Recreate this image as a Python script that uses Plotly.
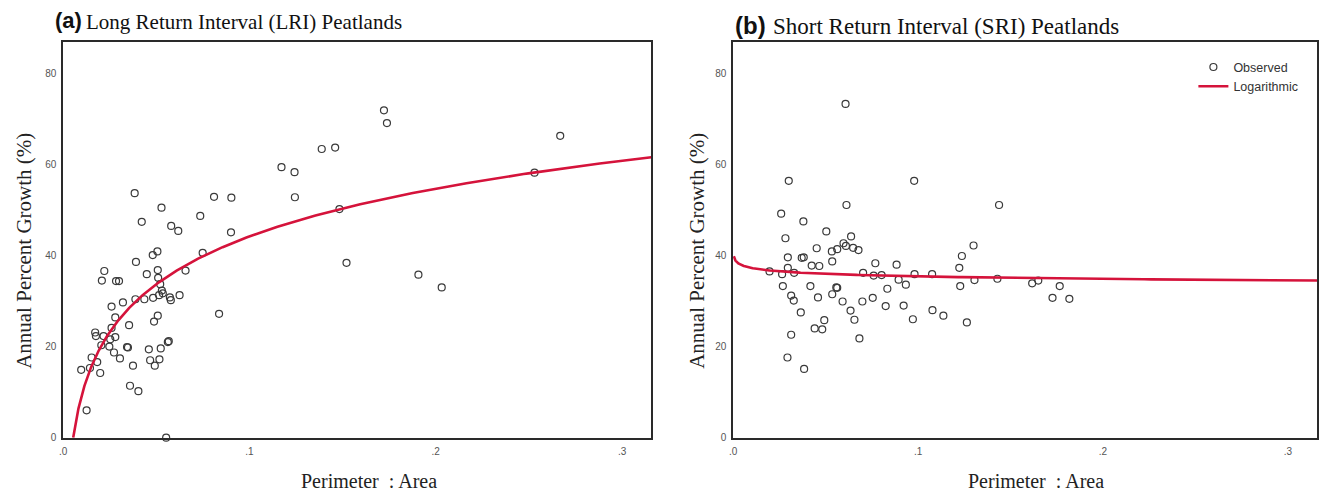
import numpy as np
import plotly.graph_objects as go

# ---------------- data ----------------
lri_x = [0.0097, 0.0126, 0.0144, 0.0153, 0.0172, 0.0176, 0.0183, 0.0199, 0.0205, 0.0208,
         0.0217, 0.0221, 0.0248, 0.0253, 0.0260, 0.0260, 0.0273, 0.0280, 0.0280, 0.0284,
         0.0300, 0.0305, 0.0321, 0.0343, 0.0348, 0.0354, 0.0359, 0.0375, 0.0384, 0.0388,
         0.0391, 0.0404, 0.0422, 0.0436, 0.0449, 0.0460, 0.0467, 0.0481, 0.0483, 0.0488,
         0.0492, 0.0506, 0.0508, 0.0508, 0.0510, 0.0515, 0.0517, 0.0521, 0.0524, 0.0528,
         0.0530, 0.0535, 0.0553, 0.0562, 0.0567, 0.0573, 0.0578, 0.0580, 0.0618, 0.0625,
         0.0657, 0.0736, 0.0749, 0.0810, 0.0837, 0.0901, 0.0903, 0.1172, 0.1242, 0.1244,
         0.1388, 0.1460, 0.1483, 0.1521, 0.1722, 0.1738, 0.1907, 0.2032, 0.2530, 0.2668]
lri_y = [14.9, 6.0, 15.3, 17.6, 23.1, 22.3, 16.6, 14.2, 20.3, 34.5,
         22.3, 36.6, 20.0, 21.6, 28.8, 24.1, 18.7, 26.4, 22.1, 34.4,
         34.4, 17.4, 29.7, 19.9, 19.8, 24.7, 11.4, 15.8, 53.7, 30.4,
         38.6, 10.2, 47.4, 30.4, 35.9, 19.4, 17.0, 40.1, 30.7, 25.5,
         15.8, 40.9, 36.8, 26.8, 35.1, 31.3, 17.2, 33.7, 19.6, 50.5,
         32.3, 31.7, 0.0, 21.0, 21.2, 30.8, 30.2, 46.5, 45.4, 31.3,
         36.7, 48.7, 40.6, 52.9, 27.2, 45.1, 52.7, 59.4, 58.3, 52.8,
         63.4, 63.7, 50.2, 38.4, 71.9, 69.1, 35.8, 33.0, 58.2, 66.3]

sri_x = [0.0197, 0.0260, 0.0265, 0.0269, 0.0283, 0.0294, 0.0296, 0.0296, 0.0301, 0.0314,
         0.0314, 0.0328, 0.0330, 0.0366, 0.0371, 0.0380, 0.0382, 0.0384, 0.0418, 0.0425,
         0.0441, 0.0452, 0.0459, 0.0466, 0.0482, 0.0493, 0.0504, 0.0534, 0.0536, 0.0536,
         0.0558, 0.0563, 0.0563, 0.0592, 0.0597, 0.0608, 0.0610, 0.0613, 0.0635, 0.0638,
         0.0649, 0.0656, 0.0678, 0.0683, 0.0699, 0.0703, 0.0755, 0.0760, 0.0769, 0.0803,
         0.0825, 0.0834, 0.0884, 0.0895, 0.0922, 0.0934, 0.0972, 0.0979, 0.0981, 0.1076,
         0.1078, 0.1137, 0.1223, 0.1228, 0.1237, 0.1264, 0.1300, 0.1305, 0.1429, 0.1438,
         0.1617, 0.1650, 0.1727, 0.1766, 0.1818]
sri_y = [36.5, 49.2, 35.9, 33.3, 43.8, 17.6, 39.6, 37.3, 56.4, 22.6,
         31.2, 30.1, 36.2, 27.5, 39.5, 47.5, 39.6, 15.1, 33.3, 37.8,
         24.0, 41.6, 30.8, 37.7, 23.8, 25.8, 45.3, 40.9, 38.7, 31.5,
         33.0, 32.9, 41.4, 29.9, 42.7, 73.3, 42.1, 51.1, 27.9, 44.2,
         41.7, 25.9, 41.2, 21.8, 29.9, 36.2, 30.7, 35.6, 38.3, 35.7,
         28.9, 32.7, 38.0, 34.7, 29.0, 33.6, 26.0, 56.4, 35.9, 35.9,
         28.0, 26.8, 37.3, 33.3, 39.9, 25.3, 42.2, 34.6, 34.9, 51.1,
         33.9, 34.5, 30.7, 33.3, 30.5]

# logarithmic fit coefficients y = a + b*ln(x)
lri_fit = {"a": 79.05, "b": 15.14}
sri_fit = {"a": 33.58, "b": -0.80}

x_tickvals = [0, 0.1, 0.2, 0.3]
x_ticktext = [".0", ".1", ".2", ".3"]
y_tickvals = [0, 20, 40, 60, 80]
y_ticktext = ["0", "20", "40", "60", "80"]

X_MAX = 0.3157
Y_MAX = 86.9

RED = "#d5133b"
MARK = "#3a3a3a"
SERIF = "Liberation Serif, Times New Roman, serif"
SANS = "Liberation Sans, Arial, sans-serif"


def fit_curve(coef, x_start, x_end):
    xs = np.geomspace(x_start, x_end, 400)
    return xs, coef["a"] + coef["b"] * np.log(xs)


W, H = 1322, 497
fig = go.Figure()

# panel a
ax0 = np.exp(-lri_fit["a"] / lri_fit["b"])
cx, cy = fit_curve(lri_fit, ax0, X_MAX)
fig.add_trace(go.Scatter(x=lri_x, y=lri_y, mode="markers", xaxis="x", yaxis="y",
                         marker=dict(symbol="circle-open", size=7, color=MARK, line=dict(width=1.2, color=MARK)),
                         showlegend=False, cliponaxis=False))
fig.add_trace(go.Scatter(x=cx, y=cy, mode="lines", xaxis="x", yaxis="y",
                         line=dict(color=RED, width=2.6), showlegend=False))

# panel b
cx2, cy2 = fit_curve(sri_fit, 0.0004, X_MAX)
fig.add_trace(go.Scatter(x=sri_x, y=sri_y, mode="markers", xaxis="x2", yaxis="y2", name="Observed",
                         marker=dict(symbol="circle-open", size=7, color=MARK, line=dict(width=1.2, color=MARK))))
fig.add_trace(go.Scatter(x=cx2, y=cy2, mode="lines", xaxis="x2", yaxis="y2", name="Logarithmic",
                         line=dict(color=RED, width=2.6)))

def px_x(p):
    return p / W

def px_y(p):
    return 1 - p / H

axis_common = dict(showline=True, linecolor="#2a2a2a", linewidth=1.6, mirror=True,
                   showgrid=False, zeroline=False, ticks="",
                   tickfont=dict(family=SANS, size=10, color="#555555"))

y_dom = [px_y(443), px_y(42.5)]
fig.update_layout(
    width=W, height=H,
    margin=dict(l=0, r=0, t=0, b=0),
    paper_bgcolor="white", plot_bgcolor="white",
    xaxis=dict(domain=[px_x(59.3), px_x(649.3)], range=[0, X_MAX], anchor="y",
               tickvals=x_tickvals, ticktext=x_ticktext, ticklabelstandoff=4, **axis_common),
    yaxis=dict(domain=y_dom, range=[0, Y_MAX], anchor="x",
               tickvals=y_tickvals, ticktext=y_ticktext, ticklabelstandoff=3, **axis_common),
    xaxis2=dict(domain=[px_x(731.3), px_x(1317)], range=[0, X_MAX], anchor="y2",
                tickvals=x_tickvals, ticktext=x_ticktext, ticklabelstandoff=4, **axis_common),
    yaxis2=dict(domain=y_dom, range=[0, Y_MAX], anchor="x2",
                tickvals=y_tickvals, ticktext=y_ticktext, ticklabelstandoff=3, **axis_common),
    legend=dict(x=px_x(1193), y=px_y(53), xanchor="left", yanchor="top",
                font=dict(family=SANS, size=12.5, color="#333333"),
                bgcolor="rgba(0,0,0,0)", tracegroupgap=0, itemwidth=30),
    showlegend=True,
)

ann = []
# titles
ann.append(dict(text="<b>(a)</b>", x=px_x(49), y=px_y(21), xanchor="left", yanchor="middle",
                font=dict(family=SANS, size=22, color="#111111")))
ann.append(dict(text="Long Return Interval (LRI) Peatlands", x=px_x(80), y=px_y(22), xanchor="left",
                yanchor="middle", font=dict(family=SERIF, size=21, color="#111111")))
ann.append(dict(text="<b>(b)</b>", x=px_x(731), y=px_y(26), xanchor="left", yanchor="middle",
                font=dict(family=SANS, size=24, color="#111111")))
ann.append(dict(text="Short Return Interval (SRI) Peatlands", x=px_x(769), y=px_y(27), xanchor="left",
                yanchor="middle", font=dict(family=SERIF, size=23, color="#111111")))
# axis titles
for xc, yc in [(20, 254), (695, 254)]:
    ann.append(dict(text="Annual Percent Growth (%)", x=px_x(xc), y=px_y(yc), textangle=-90,
                    xanchor="center", yanchor="middle", font=dict(family=SERIF, size=21, color="#222222")))
for xc in [366, 1035]:
    ann.append(dict(text="Perimeter  : Area", x=px_x(xc), y=px_y(487), xanchor="center", yanchor="middle",
                    font=dict(family=SERIF, size=20, color="#222222")))
for a in ann:
    a.update(xref="paper", yref="paper", showarrow=False)
fig.update_layout(annotations=ann)

fig.write_html("out.html")
